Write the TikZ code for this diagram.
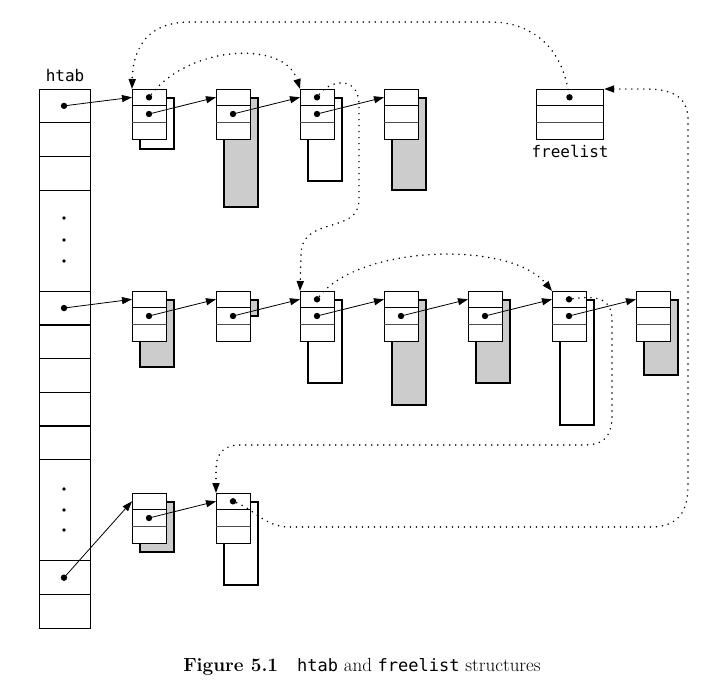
\documentclass[tikz,border=0pt]{standalone}
\usepackage{fontspec}
\setmonofont{DejaVu Sans Mono}
\usetikzlibrary{arrows.meta,positioning}
\colorlet{shade}{black!20}

\tikzset{
  cellbox/.style={draw, line width=1.2pt, fill=white, minimum width=34pt,
    minimum height=50pt, inner sep=0pt, anchor=north west},
  ptr/.style={line width=0.8pt, -{Triangle[length=10pt,width=7pt]}},
  link/.style={line width=1.7pt, line cap=round, dash pattern=on 0pt off 6pt,
    -{Triangle[length=10pt,width=7pt]}},
  lbl/.style={font=\ttfamily\fontsize{16}{16}\selectfont, inner sep=0pt},
}

\begin{document}
\begin{tikzpicture}[x=1pt, y=1pt]
      \useasboundingbox (0,0) rectangle (716,-689);
      \def\rh{33.7}
      % name, left, top, shadow bottom, shadow fill
      \def\blk#1#2#3#4#5{%
        \draw[line width=1.2pt, fill=#5] (#2+8,-#3-9) rectangle (#2+42,-#4);
        \node[cellbox] (#1) at (#2,-#3) {};
        \draw[line width=1.4pt] (#2,-#3-16.7) -- (#2+34,-#3-16.7);
        \draw[line width=0.7pt, black!70] (#2,-#3-33.3) -- (#2+34,-#3-33.3);
        \coordinate (#1-p) at (#2+17,-#3-8.3);
        \coordinate (#1-q) at (#2+17,-#3-25);
        \coordinate (#1-in) at (#2,-#3-8.3);
      }
      %
      % htab column
      \node[draw, line width=1.2pt, minimum width=51pt, minimum height=16*\rh pt,
        inner sep=0pt, anchor=north west] (htab) at (39,-89) {};
      \node[lbl, above=7pt of htab] (htablabel) {htab};
      \foreach \i in {1,2,3,6,7,8,9,10,11,14,15}
        \draw[line width=1.2pt] (39,-89-\i*\rh) -- (90,-89-\i*\rh);
      \coordinate (h1) at (64,-89-0.5*\rh);
      \coordinate (h2) at (64,-89-6.5*\rh);
      \coordinate (h3) at (64,-89-14.5*\rh);
      \foreach \y in {218,240,261,489,510,530}
        \fill (64,-\y) circle (1.9pt);
      %
      \blk{t1}{132}{89}{149}{white}   % top row
      \blk{t2}{216}{89}{207}{shade}
      \blk{t3}{300}{89}{181}{white}
      \blk{t4}{384}{89}{190}{shade}
      %
      \blk{m1}{132}{291}{367}{shade}  % middle row
      \blk{m2}{216}{291}{316}{shade}
      \blk{m3}{300}{291}{383}{white}
      \blk{m4}{384}{291}{405}{shade}
      \blk{m5}{468}{291}{383}{shade}
      \blk{m6}{552}{291}{425}{white}
      \blk{m7}{636}{291}{375}{shade}
      %
      \blk{b1}{132}{493}{552}{shade}  % bottom row
      \blk{b2}{216}{493}{585}{white}
      %
      % freelist
      \node[cellbox, minimum width=67pt] (fl) at (536,-89) {};
      \draw[line width=1.4pt] (536,-105.7) -- (603,-105.7);
      \draw[line width=0.7pt, black!70] (536,-122.3) -- (603,-122.3);
      \coordinate (fl-p) at (569.5,-97.3);
      \node[lbl, below=5pt of fl] (fllabel) {freelist};
      %
      \foreach \d in {h1,h2,h3,t1-p,t1-q,t2-q,t3-p,t3-q,m1-q,m2-q,m3-p,m3-q,
          m4-q,m5-q,m6-p,m6-q,b1-q,b2-p,fl-p}
        \fill (\d) circle (3.2pt);
      %
      % solid pointers
      \draw[ptr] (h1) -- (t1-in);
      \draw[ptr] (t1-q) -- (t2-in);
      \draw[ptr] (t2-q) -- (t3-in);
      \draw[ptr] (t3-q) -- (t4-in);
      \draw[ptr] (h2) -- (m1-in);
      \draw[ptr] (m1-q) -- (m2-in);
      \draw[ptr] (m2-q) -- (m3-in);
      \draw[ptr] (m3-q) -- (m4-in);
      \draw[ptr] (m4-q) -- (m5-in);
      \draw[ptr] (m5-q) -- (m6-in);
      \draw[ptr] (m6-q) -- (m7-in);
      \draw[ptr] (h3) -- (b1-in);
      \draw[ptr] (b1-q) -- (b2-in);
      %
      % dotted links
      \draw[link, shorten <=4pt] (t1-p) .. controls (190,-45) and (285,-40) .. (t3.north west);
      \draw[link, shorten <=8pt] (fl-p) .. controls (560,-45) and (530,-22) .. (490,-22)
        -- (190,-22) .. controls (150,-22) and (133,-45) .. (t1.north west);
      \draw[link, shorten <=4pt] (t3-p) .. controls (330,-80) and (359,-75) .. (359,-105)
        -- (359,-200) .. controls (359,-235) and (301,-215) .. (301,-255) -- (m3.north west);
      \draw[link, shorten <=4pt] (m3-p) .. controls (360,-245) and (510,-240) .. (m6.north west);
      \draw[link, shorten <=4pt] (m6-p) .. controls (600,-295) and (612,-300) .. (612,-320)
        -- (612,-415) .. controls (612,-440) and (600,-445) .. (585,-445)
        -- (240,-445) .. controls (222,-445) and (216,-455) .. (216,-470) -- (b2.north west);
      \draw[link, shorten <=4pt] (b2-p) .. controls (255,-510) and (265,-527) .. (290,-527)
        -- (650,-527) .. controls (680,-527) and (688,-510) .. (688,-485)
        -- (688,-120) .. controls (688,-95) and (670,-89) .. (645,-89) -- (fl.north east);
      %
      \node[font=\fontsize{19}{19}\selectfont] (caption) at (362,-667)
        {\textbf{Figure 5.1}\quad{\ttfamily\fontsize{17}{17}\selectfont htab} and
         {\ttfamily\fontsize{17}{17}\selectfont freelist} structures};
    \end{tikzpicture}
\end{document}
